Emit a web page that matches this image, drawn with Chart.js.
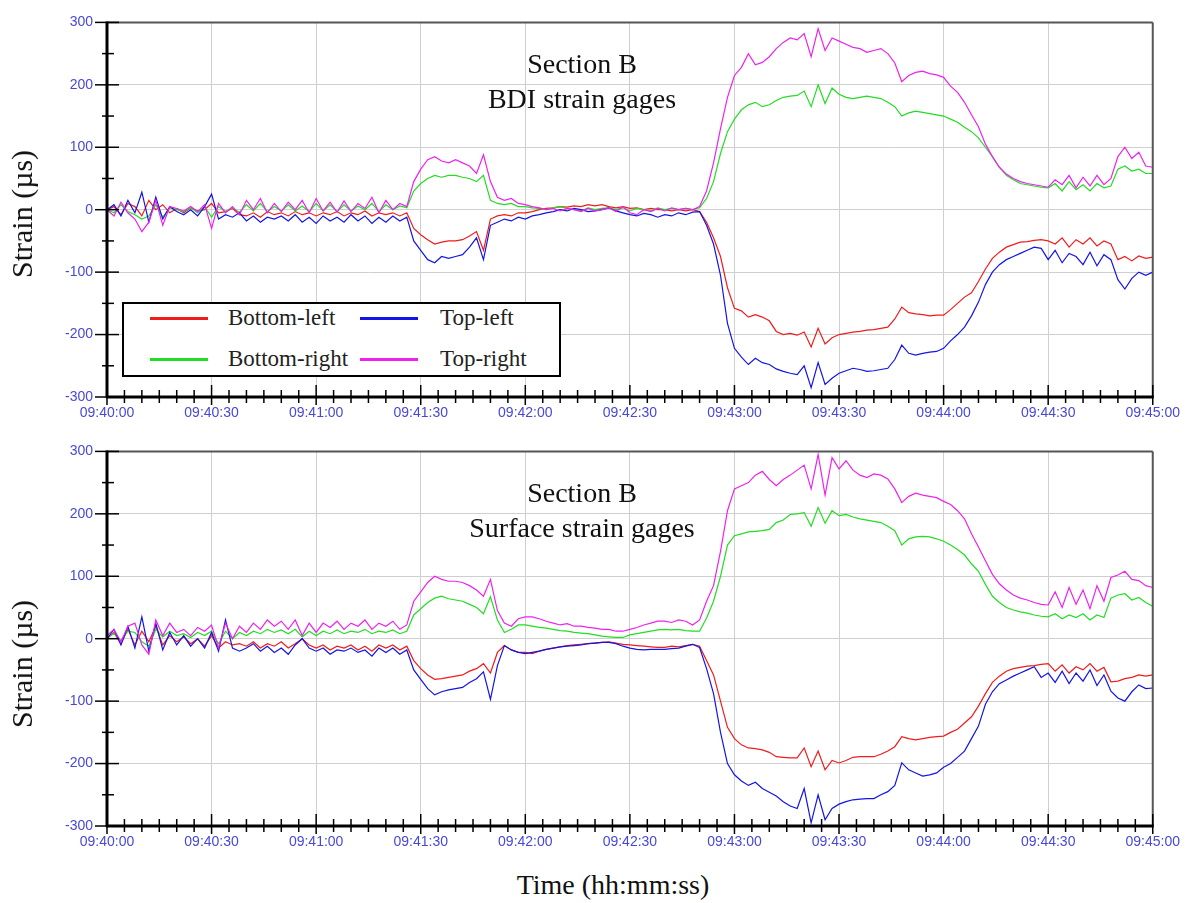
<!DOCTYPE html>
<html>
<head>
<meta charset="utf-8">
<script src="https://cdn.jsdelivr.net/npm/chart.js@4.4.1/dist/chart.umd.min.js"></script>
<style>
  body { margin: 0; background: #fff; }
  #wrap { position: relative; width: 1188px; height: 903px; background: #fff; overflow: hidden; }
  .panel { position: absolute; left: 0; width: 1188px; height: 425px; }
  .serif { position: absolute; font-family: "Liberation Serif", "Times New Roman", serif; color: #111; white-space: nowrap; line-height: 28px; }
  .note { font-size: 28px; transform: translateX(-50%); }
  .ytitle { font-size: 30px; transform: translate(-50%, -50%) rotate(-90deg); }
  #legend { position: absolute; left: 122px; top: 302px; width: 435px; height: 71px; border: 2px solid #000; background: #fff; }
  .leg-item { position: absolute; font-family: "Liberation Serif", "Times New Roman", serif; font-size: 23px; color: #222; line-height: 24px; }
  .leg-line { position: absolute; height: 3px; width: 58px; }
</style>
</head>
<body>
<div id="wrap">
  <div class="panel" style="top:0"><canvas id="bdiChart" width="1188" height="425"></canvas></div>
  <div class="panel" style="top:429px"><canvas id="surfChart" width="1188" height="425"></canvas></div>

  <div class="serif ytitle" style="left:22px; top:214px">Strain (µs)</div>
  <div class="serif ytitle" style="left:22px; top:664px">Strain (µs)</div>

  <div class="serif note" style="left:582px; top:50px">Section B</div>
  <div class="serif note" style="left:582px; top:85px">BDI strain gages</div>
  <div class="serif note" style="left:582px; top:479px">Section B</div>
  <div class="serif note" style="left:582px; top:514px">Surface strain gages</div>

  <div class="serif note" style="left:613px; top:871px">Time (hh:mm:ss)</div>

  <div id="legend"></div>
</div>

<script>
// time axis: 09:40:00 .. 09:45:00, samples every 2 s
var SAMPLE_STEP = 2;
var timeLabels = ['09:40:00', '09:40:30', '09:41:00', '09:41:30', '09:42:00', '09:42:30',
    '09:43:00', '09:43:30', '09:44:00', '09:44:30', '09:45:00'];
var strainTicks = [-300, -200, -100, 0, 100, 200, 300];

var seriesNames = ['Bottom-left', 'Top-left', 'Bottom-right', 'Top-right'];
var seriesColors = ['#f01c1c', '#1414e6', '#22dd22', '#ee22ee'];
var drawOrder = [3, 1, 2, 0];

// ---- Section B, BDI strain gages ----
var bdiBottomLeft = [
    0, 5, -8, 10, 5, -10, 15, 0, 8, -5,
    2, -5, 3, -2, 0, 10, -5, -3, 2, -8,
    -10, -5, -12, -3, -8, -5, -10, -3, -8, -5,
    -10, -5, -8, -3, -10, -5, -8, -2, -10, -5,
    -8, -5, -10, -5, -30, -40, -48, -55, -52, -50,
    -50, -48, -42, -35, -65, -15, -10, -8, -10, -5,
    -5, -3, 0, 2, 3, 5, 4, 6, 5, 8,
    6, 8, 5, 3, 5, 2, 3, 0, 2, 0,
    0, -2, 0, -2, 0, -3, -20, -45, -75, -125,
    -158, -162, -172, -168, -172, -178, -195, -200, -198, -201,
    -196, -220, -190, -215, -205, -200, -198, -196, -195, -193,
    -192, -190, -188, -175, -156, -165, -167, -168, -170, -169,
    -169, -160, -150, -140, -133, -115, -95, -78, -68, -60,
    -56, -52, -51, -49, -48, -50, -55, -45, -60, -48,
    -55, -45, -58, -50, -55, -80, -75, -82, -74, -78,
    -76
];
var bdiTopLeft = [
    0, 8, -10, 15, -5, 28, -20, 20, -15, 5,
    -3, -8, 0, -10, 5, 25, -15, -8, -12, -5,
    -18, -10, -20, -12, -15, -10, -18, -8, -20, -12,
    -22, -10, -18, -12, -20, -8, -18, -10, -22, -12,
    -20, -10, -18, -12, -50, -65, -80, -85, -75, -78,
    -75, -72, -60, -45, -80, -25, -20, -15, -18, -12,
    -15, -10, -8, -5, -3, 0, -2, 2, 0, -3,
    -2, 0, 3, -2, -5, -8, -10, -6, -8, -12,
    -8, -10, -5, -8, -4, -3, -25, -55, -105, -182,
    -222, -236, -248, -238, -245, -248, -255, -259, -262, -264,
    -250, -285, -245, -280, -270, -262, -258, -254, -256, -259,
    -258, -256, -254, -240, -217, -230, -233, -230, -228, -227,
    -222, -210, -200, -188, -170, -148, -120, -100, -88, -80,
    -75, -70, -65, -60, -62, -80, -65, -85, -70, -75,
    -88, -68, -90, -72, -80, -112, -127, -110, -100, -105,
    -100
];
var bdiBottomRight = [
    0, -5, 8, -3, -8, -15, -10, 8, -12, 3,
    0, -3, 3, -5, 5, -12, 5, -3, 3, -4,
    8, -2, 10, -3, 5, -2, 8, -2, 6, -3,
    10, -2, 8, -3, 8, -2, 6, 0, 10, -3,
    8, 0, 6, 3, 30, 42, 50, 55, 52, 55,
    55, 52, 50, 45, 55, 15, 10, 8, 10, 5,
    5, 3, 2, 0, 3, 5, 2, 0, -2, 3,
    0, 2, 3, 0, 3, -2, 2, 0, -2, 3,
    0, 2, 0, 2, 0, 3, 18, 45, 90, 125,
    145, 160, 168, 172, 165, 168, 175, 180, 182, 183,
    190, 165, 200, 170, 195, 185, 180, 178, 180, 182,
    180, 178, 172, 165, 150, 155, 158, 156, 154, 152,
    150, 145, 140, 132, 125, 115, 100, 85, 68, 55,
    48, 42, 40, 38, 36, 35, 42, 30, 45, 32,
    40, 30, 42, 35, 38, 65, 70, 62, 65, 58,
    58
];
var bdiTopRight = [
    0, -10, 12, -5, -15, -35, -20, 15, -25, 5,
    2, -2, 5, -3, 8, -30, 10, -5, 5, -8,
    15, 0, 18, -5, 10, -3, 12, 0, 15, -5,
    18, -2, 12, -4, 14, -3, 10, 2, 20, -5,
    15, 0, 10, 5, 45, 65, 80, 85, 78, 75,
    80, 75, 70, 58, 88, 45, 20, 15, 18, 10,
    8, 5, 3, 0, 2, -2, 2, 0, -3, 2,
    -2, 0, 3, -3, 5, -5, -8, 0, -3, 2,
    -2, 3, 0, 2, 0, 5, 30, 75, 130, 180,
    215, 228, 250, 232, 236, 245, 258, 268, 275, 272,
    282, 245, 290, 255, 275, 270, 265, 260, 258, 252,
    255, 258, 250, 235, 205, 215, 220, 222, 218, 216,
    212, 198, 188, 172, 152, 133, 105, 85, 68, 57,
    50, 45, 42, 40, 38, 36, 48, 40, 55, 35,
    52, 38, 55, 40, 50, 85, 100, 82, 92, 70,
    68
];

// ---- Section B, surface strain gages ----
var surfBottomLeft = [
    0, 10, -8, 15, -10, 12, -5, 20, -10, 5,
    -5, 3, -8, 0, -12, 5, -15, -5, -10, -8,
    -12, -5, -15, -8, -12, -5, -15, -8, 0, -10,
    -15, -10, -18, -12, -15, -10, -18, -12, -20, -10,
    -15, -10, -18, -12, -35, -48, -58, -65, -64, -62,
    -60, -58, -52, -48, -40, -55, -22, -11, -18, -22,
    -22, -24, -20, -17, -15, -13, -11, -10, -9, -8,
    -7, -6, -5, -7, -9, -10, -11, -12, -13, -14,
    -14, -12, -13, -11, -9, -12, -35, -58, -100, -142,
    -160, -170, -175, -176, -178, -182, -189, -190, -191, -191,
    -175, -205, -180, -210, -195, -199, -195, -190, -189, -189,
    -189, -185, -180, -173, -157, -160, -162, -160, -158, -157,
    -156, -150, -145, -135, -125, -108, -88, -70, -60, -52,
    -48, -46, -44, -43, -41, -40, -52, -42, -55, -45,
    -50, -40, -52, -46, -69, -68, -64, -62, -58, -60,
    -58
];
var surfTopLeft = [
    0, 15, -10, 20, -15, 35, -20, 25, -18, 10,
    -10, 5, -12, 0, -15, 10, -20, 30, -15, -20,
    -15, -8, -20, -12, -22, -15, -25, -10, 0, -15,
    -20, -15, -25, -18, -20, -15, -22, -18, -28, -15,
    -22, -15, -25, -18, -50, -65, -80, -90, -85, -82,
    -80, -78, -70, -64, -53, -97, -43, -11, -18, -22,
    -24, -22, -20, -17, -15, -13, -12, -11, -10, -8,
    -7, -6, -6, -8, -12, -15, -17, -18, -17, -17,
    -17, -16, -15, -12, -9, -14, -48, -88, -150, -200,
    -218, -228, -235, -230, -240, -246, -252, -261, -268, -272,
    -240, -295, -250, -290, -272, -265, -261, -258, -257, -256,
    -256, -250, -245, -235, -199, -210, -215, -220, -218, -215,
    -206, -200, -190, -180, -160, -140, -105, -85, -72, -66,
    -60, -55, -50, -45, -62, -55, -70, -52, -72, -55,
    -68, -50, -75, -58, -84, -95, -100, -85, -74, -80,
    -79
];
var surfBottomRight = [
    2, 8, -3, 12, 10, -5, -12, 15, 3, 12,
    5, 8, 2, 10, 5, 12, -8, 12, 0, 10,
    5, 12, 8, 15, 10, 14, 8, 15, 3, 12,
    5, 12, 8, 14, 8, 12, 10, 15, 8, 12,
    10, 14, 8, 12, 38, 48, 58, 65, 68, 64,
    62, 60, 55, 50, 40, 67, 30, 10, 15, 22,
    22, 20, 18, 17, 15, 13, 12, 10, 9, 8,
    6, 4, 3, 2, 2, 6, 8, 10, 12, 14,
    15, 14, 15, 13, 12, 12, 33, 60, 100, 150,
    165, 168, 171, 172, 173, 175, 186, 190, 199, 200,
    202, 180, 210, 185, 205, 197, 199, 195, 192, 190,
    188, 186, 180, 173, 150, 160, 163, 164, 163, 160,
    156, 150, 143, 134, 120, 108, 87, 68, 58, 50,
    46, 43, 41, 38, 36, 35, 40, 32, 38, 34,
    40, 30, 38, 34, 65, 70, 72, 62, 66, 58,
    52
];
var surfTopRight = [
    5, 15, -5, 20, 25, -10, -25, 30, 5, 25,
    10, 15, 5, 18, 12, 22, -15, 25, 0, 20,
    10, 25, 15, 30, 20, 28, 15, 30, 5, 25,
    10, 25, 18, 28, 15, 25, 20, 30, 15, 25,
    20, 28, 15, 22, 60, 75, 90, 100, 95, 92,
    92, 90, 85, 78, 68, 95, 45, 25, 20, 32,
    35, 35, 32, 28, 25, 22, 24, 20, 20, 18,
    17, 15, 15, 12, 12, 15, 18, 22, 25, 28,
    28, 26, 30, 28, 22, 30, 60, 85, 140, 205,
    240, 245, 250, 262, 268, 255, 245, 255, 262, 270,
    278, 240, 295, 230, 290, 272, 285, 270, 262, 258,
    264, 262, 256, 240, 218, 228, 233, 230, 228, 226,
    220, 215, 205, 192, 168, 147, 125, 103, 88, 78,
    70, 65, 62, 58, 55, 54, 75, 50, 82, 55,
    78, 48, 85, 60, 98, 102, 108, 95, 93, 85,
    82
];

var tickColor = '#4848d8';
var tickFont = { family: 'Arial, "Liberation Sans", sans-serif', size: 14 };

function toPoints(values) {
    return values.map(function(v, i) {
        return { x: i * SAMPLE_STEP, y: v };
    });
}

// tick marks crossing the axes + thick left/bottom axis and thin frame
var axisMarks = {
    id: 'axisMarks',
    afterDraw: function(chart) {
        var ctx = chart.ctx;
        var a = chart.chartArea;
        var xs = chart.scales.x;
        var ys = chart.scales.y;

        function seg(x1, y1, x2, y2) {
            ctx.beginPath();
            ctx.moveTo(x1, y1);
            ctx.lineTo(x2, y2);
            ctx.stroke();
        }

        ctx.save();
        ctx.strokeStyle = '#555';
        ctx.lineWidth = 2;
        seg(a.left, a.top, a.right, a.top);
        seg(a.right, a.top, a.right, a.bottom);

        ctx.strokeStyle = '#000';
        ctx.lineWidth = 3;
        seg(a.left, a.top - 1, a.left, a.bottom + 1);
        seg(a.left - 1, a.bottom, a.right + 1, a.bottom);

        ctx.lineWidth = 1.5;
        for (var v = -300; v <= 300; v += 50) {
            var py = ys.getPixelForValue(v);
            if (v % 100 === 0) {
                seg(a.left - 12, py, a.left + 12, py);
            } else {
                seg(a.left - 5, py, a.left + 7, py);
            }
        }
        for (var s = 0; s <= 300; s += 5) {
            var px = xs.getPixelForValue(s);
            if (s % 30 === 0) {
                seg(px, a.bottom - 12, px, a.bottom + 8);
            } else {
                seg(px, a.bottom - 7, px, a.bottom + 6);
            }
        }
        ctx.restore();
    }
};

function makePanel(canvasId, seriesList) {
    var datasets = seriesList.map(function(values, k) {
        return {
            label: seriesNames[k],
            data: toPoints(values),
            borderColor: seriesColors[k],
            backgroundColor: seriesColors[k],
            borderWidth: 1.2,
            pointRadius: 0,
            tension: 0,
            order: drawOrder[k]
        };
    });

    return new Chart(document.getElementById(canvasId), {
        type: 'line',
        data: { datasets: datasets },
        options: {
            responsive: false,
            animation: false,
            events: [],
            layout: { padding: { top: 14, right: 35, left: 0, bottom: 0 } },
            plugins: {
                legend: { display: false },
                tooltip: { enabled: false }
            },
            scales: {
                x: {
                    type: 'linear',
                    min: 0,
                    max: 300,
                    afterFit: function(scale) { scale.height = 28; },
                    border: { display: false },
                    grid: { color: '#cfcfcf', lineWidth: 1, drawTicks: false },
                    ticks: {
                        stepSize: 30,
                        autoSkip: false,
                        maxRotation: 0,
                        padding: 8,
                        color: tickColor,
                        font: tickFont,
                        callback: function(v) { return timeLabels[Math.round(v / 30)]; }
                    }
                },
                y: {
                    min: -300,
                    max: 300,
                    afterFit: function(scale) { scale.width = 107; },
                    afterBuildTicks: function(scale) {
                        scale.ticks = strainTicks.map(function(v) { return { value: v }; });
                    },
                    border: { display: false },
                    grid: { color: '#cfcfcf', lineWidth: 1, drawTicks: false },
                    ticks: {
                        padding: 14,
                        color: tickColor,
                        font: tickFont
                    }
                }
            }
        },
        plugins: [axisMarks]
    });
}

makePanel('bdiChart', [bdiBottomLeft, bdiTopLeft, bdiBottomRight, bdiTopRight]);
makePanel('surfChart', [surfBottomLeft, surfTopLeft, surfBottomRight, surfTopRight]);

// legend box (top panel only), 2 x 2 grid: Bottom-left, Top-left / Bottom-right, Top-right
var legend = document.getElementById('legend');
var legendSlots = [[0, 0], [1, 0], [0, 1], [1, 1]];
seriesNames.forEach(function(name, k) {
    var col = legendSlots[k][0];
    var row = legendSlots[k][1];
    var line = document.createElement('div');
    line.className = 'leg-line';
    line.style.background = seriesColors[k];
    line.style.left = (26 + col * 210) + 'px';
    line.style.top = (13 + row * 41) + 'px';
    legend.appendChild(line);
    var txt = document.createElement('div');
    txt.className = 'leg-item';
    txt.textContent = name;
    txt.style.left = (104 + col * 212) + 'px';
    txt.style.top = (2 + row * 41) + 'px';
    legend.appendChild(txt);
});
</script>
</body>
</html>
